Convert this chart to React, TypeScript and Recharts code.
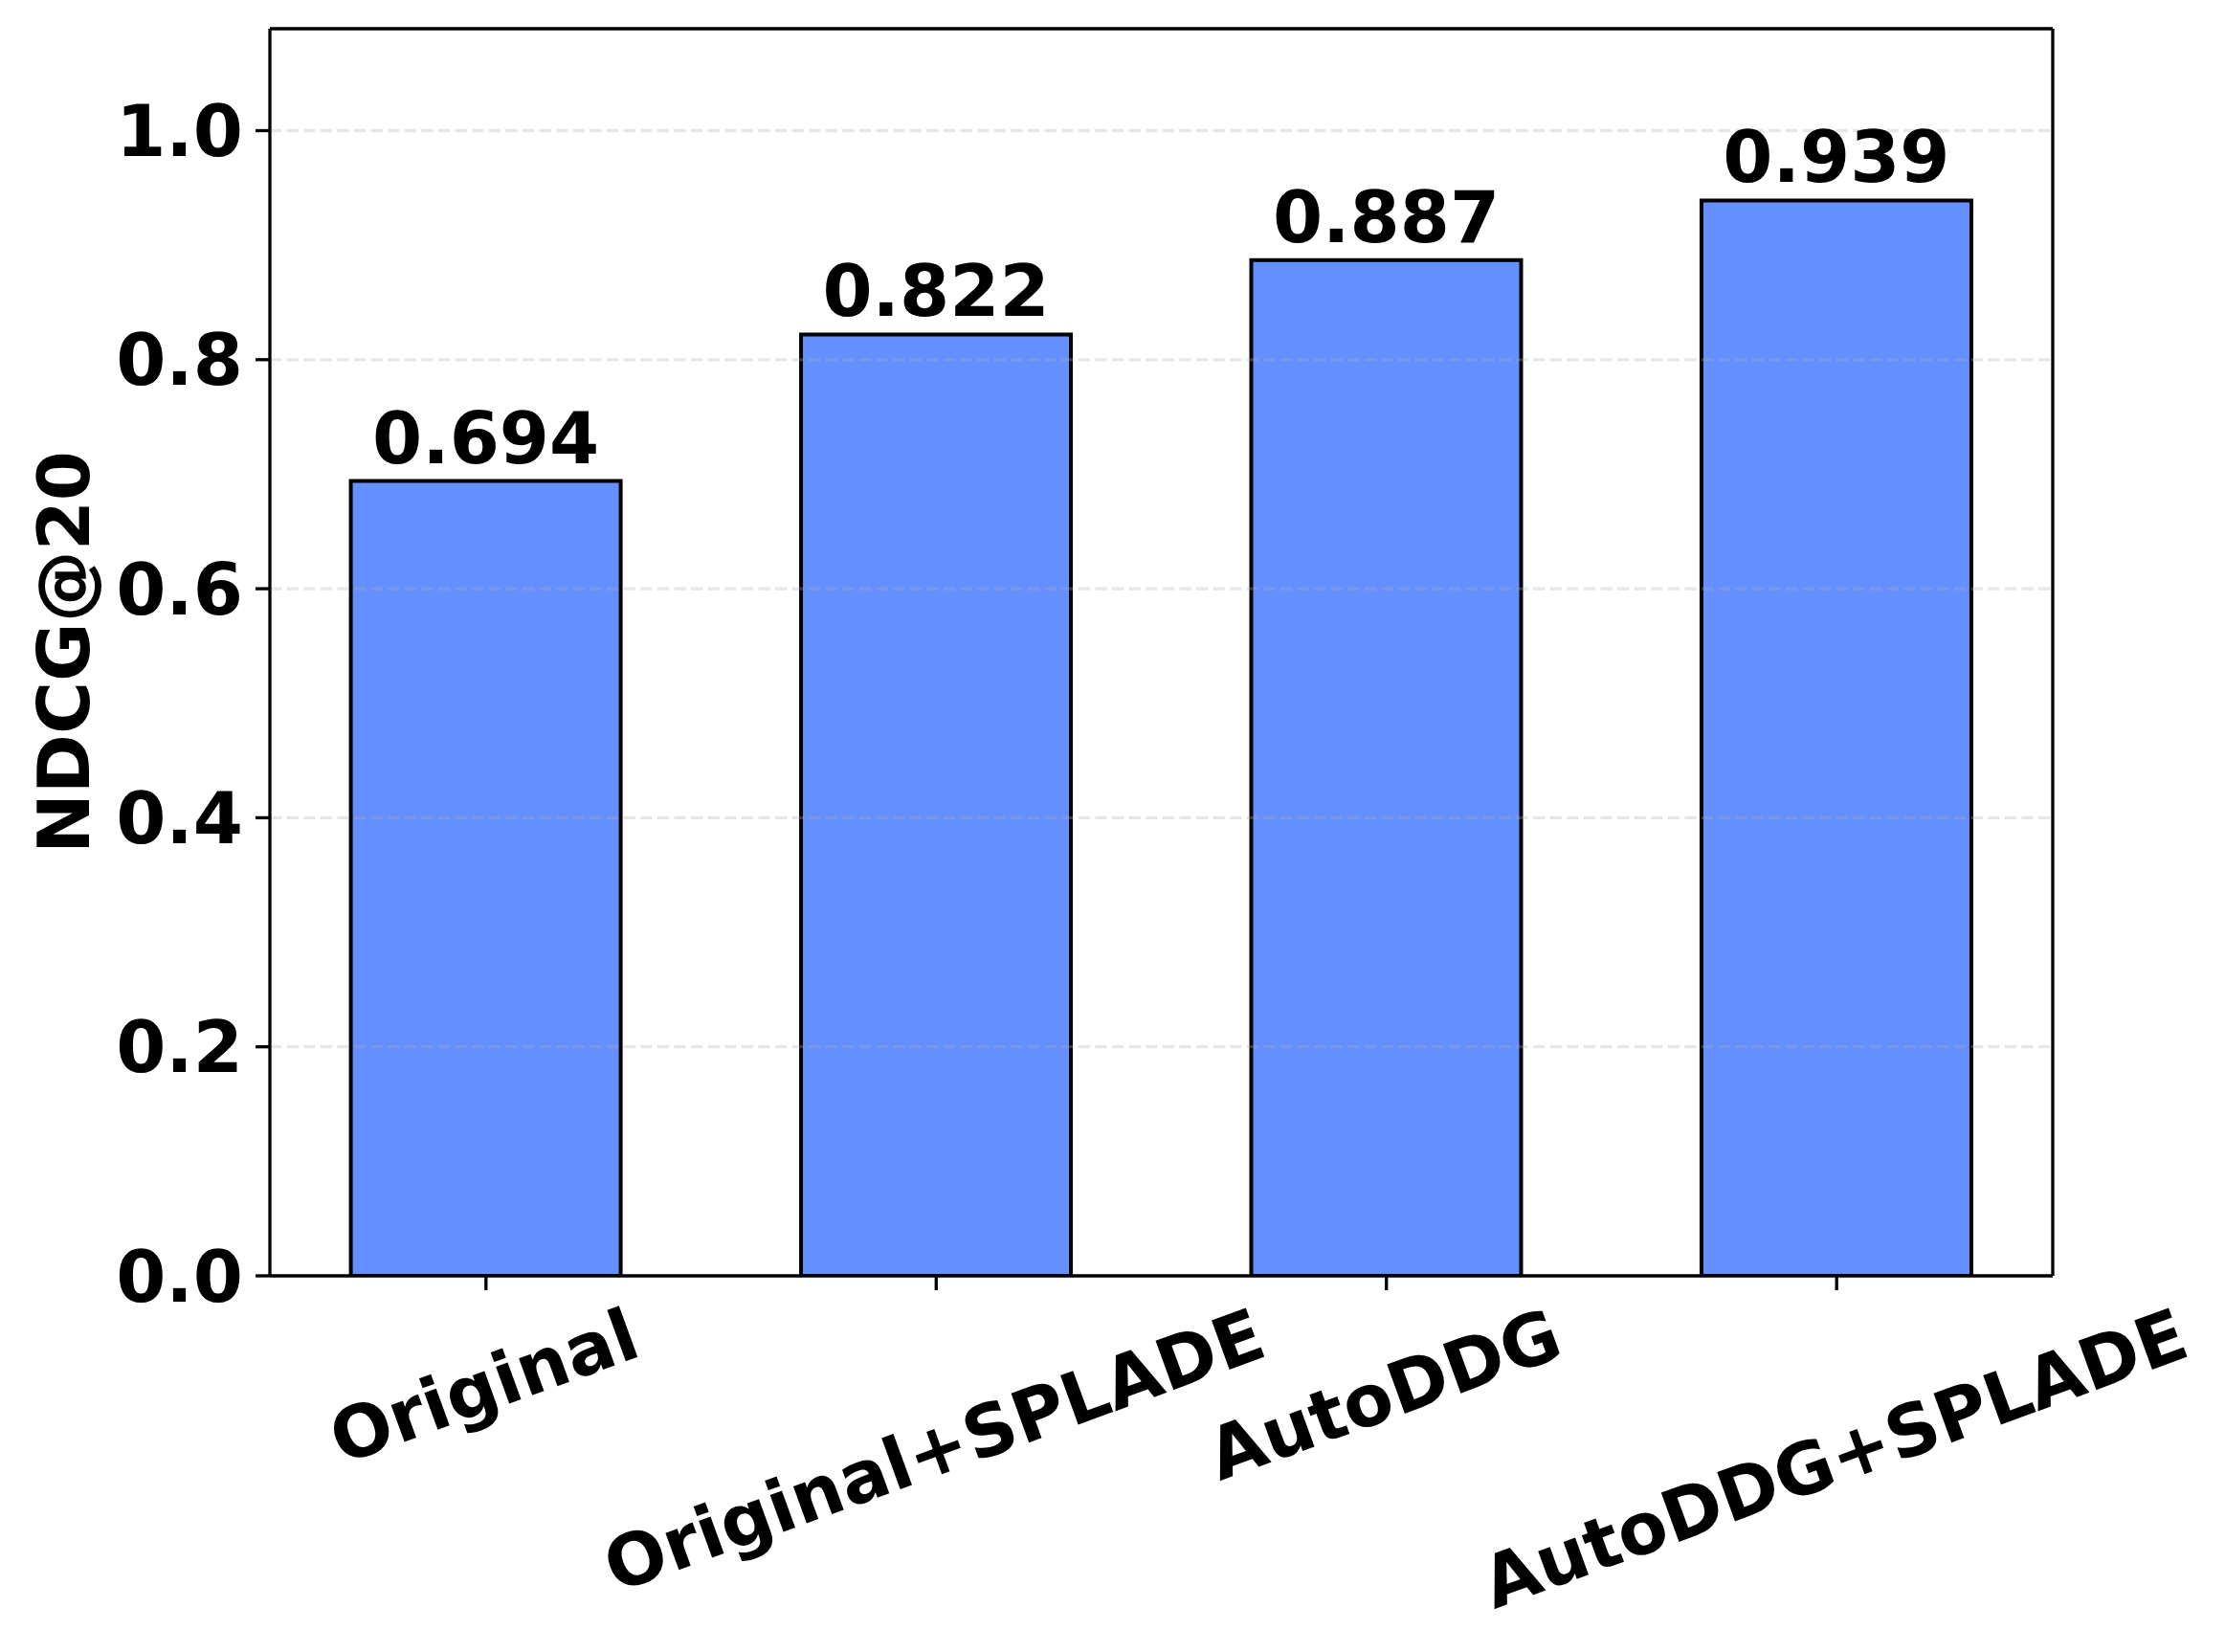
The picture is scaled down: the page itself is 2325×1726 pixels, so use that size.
import React from "react";
import {
  BarChart,
  Bar,
  XAxis,
  YAxis,
  ReferenceLine,
  LabelList,
} from "recharts";

const methods = ["Original", "Original+SPLADE", "AutoDDG", "AutoDDG+SPLADE"];
const ndcgScores = [0.694, 0.822, 0.887, 0.939];
const yTicks = [0, 0.2, 0.4, 0.6, 0.8, 1.0];

const Y_MAX = 1.089;
const X_MIN = -0.48;
const X_MAX = 3.48;
const FONT = "'DejaVu Sans', Verdana, sans-serif";
const FS = 75;
const ANGLE = 20;

const data = methods.map((name, i) => ({ idx: i, name, score: ndcgScores[i] }));

let ctx: CanvasRenderingContext2D | null = null;
function textWidth(s: string) {
  try {
    if (!ctx) ctx = document.createElement("canvas").getContext("2d");
    if (ctx) {
      ctx.font = `bold ${FS}px 'DejaVu Sans'`;
      return ctx.measureText(s).width;
    }
  } catch (e) {}
  return s.length * FS * 0.68;
}

const XTick = (props: any) => {
  const { x, y, payload } = props;
  const label = methods[payload.value] ?? "";
  const rad = (ANGLE * Math.PI) / 180;
  const w = textWidth(label);
  const boxH = w * Math.sin(rad) + FS * Math.cos(rad);
  const cy = y + boxH / 2;
  return (
    <g transform={`translate(${x},${cy}) rotate(${-ANGLE})`}>
      <text
        x={0}
        y={FS * 0.262}
        textAnchor="middle"
        fontFamily={FONT}
        fontWeight="bold"
        fontSize={FS}
        fill="#000"
      >
        {label}
      </text>
    </g>
  );
};

const ValueLabel = (props: any) => {
  const { x, y, width, value } = props;
  return (
    <text
      x={x + width / 2}
      y={y - 19}
      textAnchor="middle"
      fontFamily={FONT}
      fontWeight="bold"
      fontSize={FS}
      fill="#000"
    >
      {Number(value).toFixed(3)}
    </text>
  );
};

const YLabel = (props: any) => {
  const vb = props.viewBox || {};
  const cy = (vb.y ?? 30) + (vb.height ?? 1303) / 2;
  return (
    <text
      transform={`translate(93,${cy}) rotate(-90)`}
      textAnchor="middle"
      fontFamily={FONT}
      fontWeight="bold"
      fontSize={FS}
      fill="#000"
    >
      NDCG@20
    </text>
  );
};

export default function App() {
  return (
    <div
      style={{
        position: "absolute",
        left: 0,
        top: 0,
        width: 2325,
        height: 1726,
        background: "#fff",
      }}
    >
      <BarChart
        width={2325}
        height={1726}
        data={data}
        margin={{ top: 30, right: 180, left: 0, bottom: 0 }}
      >
        <XAxis
          type="number"
          dataKey="idx"
          domain={[X_MIN, X_MAX]}
          ticks={[0, 1, 2, 3]}
          allowDataOverflow
          height={393}
          tickSize={15}
          tickMargin={14}
          tick={<XTick />}
          axisLine={{ stroke: "#000", strokeWidth: 3.3 }}
          tickLine={{ stroke: "#000", strokeWidth: 3.3 }}
          interval={0}
        />
        <YAxis
          type="number"
          domain={[0, Y_MAX]}
          ticks={yTicks}
          allowDataOverflow
          width={282}
          tickSize={15}
          tickMargin={13}
          tickFormatter={(v: number) => v.toFixed(1)}
          tick={{ fontFamily: FONT, fontWeight: "bold", fontSize: FS, fill: "#000" }}
          axisLine={{ stroke: "#000", strokeWidth: 3.3 }}
          tickLine={{ stroke: "#000", strokeWidth: 3.3 }}
          label={{ content: <YLabel /> }}
        />
        <Bar
          dataKey="score"
          fill="#648FFF"
          stroke="#000"
          strokeWidth={4}
          barSize={282}
          isAnimationActive={false}
        >
          <LabelList dataKey="score" content={<ValueLabel />} />
        </Bar>
        {yTicks.slice(1).map((t) => (
          <ReferenceLine
            key={t}
            y={t}
            stroke="#b0b0b0"
            strokeOpacity={0.3}
            strokeWidth={3.3}
            strokeDasharray="12.3 5.3"
          />
        ))}
        <ReferenceLine y={Y_MAX} stroke="#000" strokeWidth={3.3} />
        <ReferenceLine x={X_MAX} stroke="#000" strokeWidth={3.3} />
      </BarChart>
    </div>
  );
}
